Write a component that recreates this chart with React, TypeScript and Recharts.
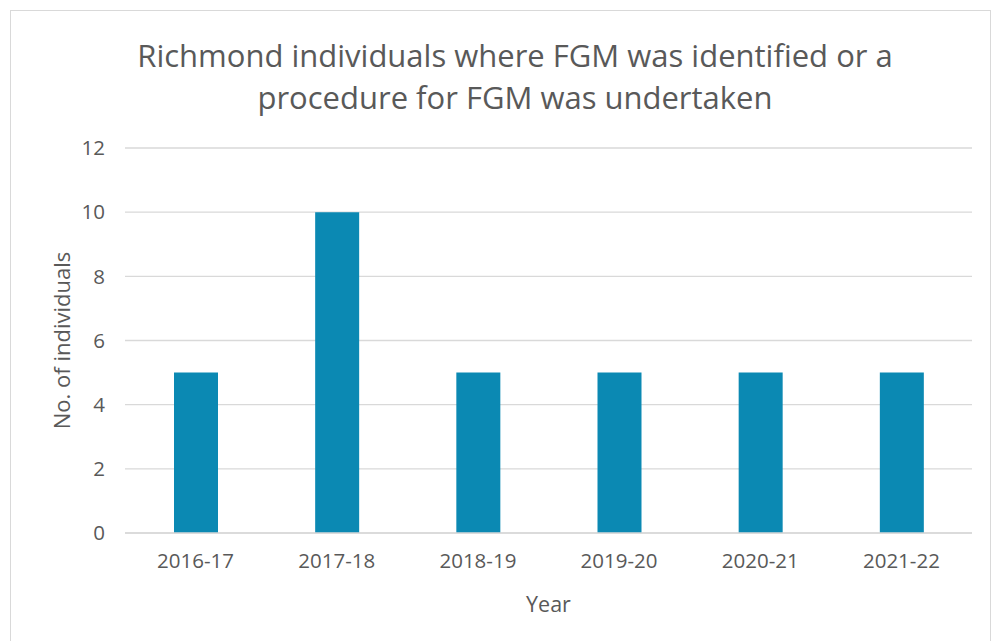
import React from 'react';
import { BarChart, Bar, XAxis, YAxis, CartesianGrid } from 'recharts';

const years = ['2016-17', '2017-18', '2018-19', '2019-20', '2020-21', '2021-22'];
const individuals = [5, 10, 5, 5, 5, 5];
const yTicks = [0, 2, 4, 6, 8, 10, 12];

const data = years.map((y, i) => ({ year: y, value: individuals[i] }));

const textColor = '#595959';
const font = '"Open Sans", sans-serif';

export default function App() {
  return (
    <div style={{ position: 'absolute', left: 0, top: 0, width: 991, height: 641, overflow: 'hidden', background: '#fff' }}>
      <div style={{ position: 'absolute', left: 10, top: 10, width: 981, height: 660, border: '1px solid #d9d9d9', boxSizing: 'border-box' }} />
      <div style={{ position: 'absolute', left: 0, top: 0 }}>
        <BarChart width={991} height={641} data={data} margin={{ top: 148, right: 19, bottom: 0, left: 65 }}>
          <CartesianGrid vertical={false} stroke="#d9d9d9" strokeWidth={1.3} />
          <XAxis
            dataKey="year"
            axisLine={{ stroke: '#d9d9d9', strokeWidth: 1.3 }}
            tickLine={false}
            tickSize={0}
            tickMargin={20}
            tick={{ fill: textColor, fontSize: 20.5, fontFamily: font }}
            label={{ value: 'Year', position: 'insideBottom', offset: 29, fill: textColor, fontSize: 21.5, fontFamily: font }}
            height={108}
          />
          <YAxis
            domain={[0, 12]}
            ticks={yTicks}
            axisLine={false}
            tickLine={false}
            tickSize={0}
            tickMargin={20}
            width={60}
            tick={{ fill: textColor, fontSize: 20.5, fontFamily: font }}
            label={{ value: 'No. of individuals', angle: -90, position: 'insideLeft', offset: -3, fill: textColor, fontSize: 22, fontFamily: font, style: { textAnchor: 'middle' } }}
          />
          <Bar dataKey="value" fill="#0B89B3" barSize={44} isAnimationActive={false} />
        </BarChart>
      </div>
      <div style={{ position: 'absolute', left: 15, width: 1000, top: 34, textAlign: 'center', fontFamily: font, fontSize: 31, lineHeight: '42px', color: textColor }}>
        Richmond individuals where FGM was identified or a<br />procedure for FGM was undertaken
      </div>
    </div>
  );
}
